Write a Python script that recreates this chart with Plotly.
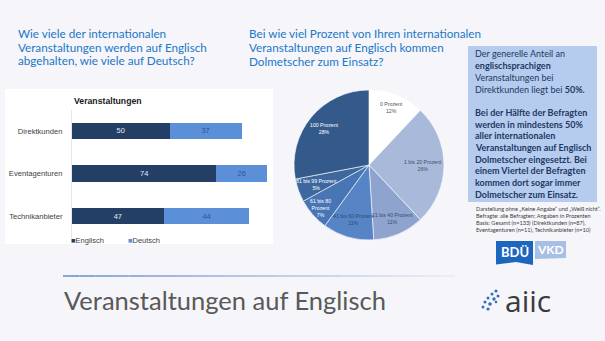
import math
import plotly.graph_objects as go

W, H = 605, 341

# ---------------- data ----------------
bar_categories = ["Direktkunden", "Eventagenturen", "Technikanbieter"]
englisch = [50, 74, 47]
deutsch = [37, 26, 44]

pie_labels = ["0 Prozent", "1 bis 20 Prozent", "21 bis 40 Prozent", "41 bis 60 Prozent",
              "61 bis 80<br>Prozent", "81 bis 99 Prozent", "100 Prozent"]
pie_values = [12, 26, 11, 11, 7, 5, 28]

# ---------------- styles ----------------
pie_colors = ["#FFFFFF", "#A9B9DA", "#8EA4CE", "#5684C4", "#4875B4", "#3E67A0", "#345A8C"]
pie_text_colors = ["#505050", "#3E4E6C", "#3A4C6E", "#2C4A7A", "#FFFFFF", "#FFFFFF", "#FFFFFF"]
pie_label_radius = [0.82, 0.72, 0.78, 0.76, 0.86, 0.75, 0.77]
C_EN, C_DE = "#243F66", "#5B8FD8"
Q_COLOR = "#2277C6"
BOX_TXT = "#1F3864"


def px(x):
    return x / W


def py(y):
    return 1 - y / H


fig = go.Figure()

# ---------------- bar chart ----------------
fig.add_trace(go.Bar(
    y=bar_categories, x=englisch, orientation="h", name="Englisch",
    marker=dict(color=C_EN, line=dict(width=0)), width=0.38,
    text=englisch, textposition="inside", insidetextanchor="middle", textangle=0,
    constraintext="none",
    textfont=dict(color="#E3E8F1", size=7.5, family="Arial"),
    hoverinfo="skip", showlegend=False))
fig.add_trace(go.Bar(
    y=bar_categories, x=deutsch, orientation="h", name="Deutsch",
    marker=dict(color=C_DE, line=dict(width=0)), width=0.38,
    text=deutsch, textposition="inside", insidetextanchor="middle", textangle=0,
    constraintext="none",
    textfont=dict(color="#34558A", size=7.5, family="Arial"),
    hoverinfo="skip", showlegend=False))

# ---------------- pie ----------------
pie_cx, pie_cy, pie_r = 369, 165, 75
fig.add_trace(go.Pie(
    labels=pie_labels, values=pie_values, sort=False, direction="clockwise", rotation=0,
    marker=dict(colors=pie_colors, line=dict(color="#FFFFFF", width=0.6)),
    textinfo="none", hoverinfo="skip", showlegend=False,
    domain=dict(x=[px(pie_cx - pie_r), px(pie_cx + pie_r)],
                y=[py(pie_cy + pie_r), py(pie_cy - pie_r)])))

annotations = []
total = sum(pie_values)
cum = 0
for lab, v, col, rf in zip(pie_labels, pie_values, pie_text_colors, pie_label_radius):
    mid = (cum + v / 2) / total * 2 * math.pi
    cum += v
    lx = pie_cx + rf * pie_r * math.sin(mid)
    ly = pie_cy - rf * pie_r * math.cos(mid)
    annotations.append(dict(x=px(lx), y=py(ly), xref="paper", yref="paper",
                            text=f"{lab}<br>{v}%", showarrow=False,
                            font=dict(size=5.2, family="Arial", color=col),
                            xanchor="center", yanchor="middle", align="center"))

# ---------------- texts ----------------
def line_ann(text, x, y, size, color, family="Lato", xanchor="left", align="left"):
    annotations.append(dict(x=px(x), y=py(y), xref="paper", yref="paper", text=text,
                            showarrow=False, font=dict(size=size, family=family, color=color),
                            xanchor=xanchor, yanchor="middle", align=align))


for i, t in enumerate(["Wie viele der internationalen",
                       "Veranstaltungen werden auf Englisch",
                       "abgehalten, wie viele auf Deutsch?"]):
    line_ann(t, 16, 33 + i * 13.5, 11.7, Q_COLOR)

for i, t in enumerate(["Bei wie viel Prozent von Ihren internationalen",
                       "Veranstaltungen auf Englisch kommen",
                       "Dolmetscher zum Einsatz?"]):
    line_ann(t, 247, 33 + i * 14.2, 11.7, Q_COLOR)

line_ann("<b>Veranstaltungen</b>", 72, 101, 8.7, "#1A1A1A", family="Arial")

line_ann(f"<span style='color:{C_EN}'>■</span>Englisch", 69, 240, 7.5, "#404040", family="Arial")
line_ann(f"<span style='color:{C_DE}'>■</span>Deutsch", 126, 240, 7.5, "#404040", family="Arial")

box_lines = [
    "Der generelle Anteil an",
    "<b>englischsprachigen</b>",
    "Veranstaltungen bei",
    "Direktkunden liegt bei <b>50%.</b>",
    "",
    "<b>Bei der Hälfte der Befragten</b>",
    "<b>werden in mindestens 50%</b>",
    "<b>aller internationalen</b>",
    "<b>Veranstaltungen auf Englisch</b>",
    "<b>Dolmetscher eingesetzt. Bei</b>",
    "<b>einem Viertel der Befragten</b>",
    "<b>kommen dort sogar immer</b>",
    "<b>Dolmetscher zum Einsatz.</b>",
]
for i, t in enumerate(box_lines):
    if t:
        line_ann(t, 473, 54 + i * 11.67, 9.0, BOX_TXT)

foot_lines = [
    "Darstellung ohne „Keine Angabe“ und „Weiß nicht“.",
    "Befragte: alle Befragten; Angaben in Prozenten",
    "Basis: Gesamt (n=133) (Direktkunden (n=87),",
    "Eventagenturen (n=11), Technikanbieter (n=10)",
]
for i, t in enumerate(foot_lines):
    line_ann(t, 474, 208 + i * 7.1, 5.6, "#404040")

line_ann("Veranstaltungen auf Englisch", 62, 300, 25.5, "#595959")
line_ann("aiic", 503, 300, 30, "#3A3A3A", family="Open Sans")
line_ann("<b>BDÜ</b>", 514.5, 252, 13, "#FFFFFF", family="Lato", xanchor="center", align="center")
line_ann("<b>VKD</b>", 550.5, 249.5, 12, "#FFFFFF", family="Lato", xanchor="center", align="center")

# ---------------- shapes ----------------
shapes = [
    dict(type="rect", xref="paper", yref="paper", x0=px(5), x1=px(273), y0=py(244), y1=py(89),
         fillcolor="#FFFFFF", line=dict(width=0), layer="below"),
    dict(type="rect", xref="paper", yref="paper", x0=px(468), x1=px(597), y0=py(202), y1=py(46),
         fillcolor="#B5CCEE", line=dict(width=0), layer="below"),
    dict(type="path", xref="paper", yref="paper",
         path=f"M{px(496)},{py(241)} L{px(533)},{py(241)} L{px(533)},{py(265)} L{px(516)},{py(262)} L{px(496)},{py(264.5)} Z",
         fillcolor="#1C66BD", line=dict(width=0)),
    dict(type="path", xref="paper", yref="paper",
         path=f"M{px(535)},{py(241)} L{px(566)},{py(241)} L{px(566)},{py(258)} L{px(535)},{py(259)} Z",
         fillcolor="#A7BFE4", line=dict(width=0)),
]
# gradient separator line
n_seg = 24
x_start, x_end = 63, 455
for i in range(n_seg):
    a = x_start + (x_end - x_start) * i / n_seg
    b = x_start + (x_end - x_start) * (i + 1) / n_seg
    op = 0.9 * (1 - i / n_seg) + 0.05
    shapes.append(dict(type="line", xref="paper", yref="paper", x0=px(a), x1=px(b),
                       y0=py(276), y1=py(276), line=dict(color=f"rgba(130,160,215,{op:.2f})", width=2)))
# aiic icon dots
dots = [(496, 291, 1.6), (492, 294, 1.5), (498, 296, 1.5), (488, 298, 1.5), (494, 299, 1.7),
        (485, 302, 1.5), (490, 304, 1.8), (496, 302, 1.3), (483, 307, 1.5), (488, 309, 1.6)]
for (dx, dy, r) in dots:
    shapes.append(dict(type="circle", xref="paper", yref="paper", x0=px(dx - r), x1=px(dx + r),
                       y0=py(dy + r), y1=py(dy - r), fillcolor="#2F6FC0", line=dict(width=0)))

fig.update_layout(
    width=W, height=H, margin=dict(l=0, r=0, t=0, b=0),
    paper_bgcolor="#F5F5FA", plot_bgcolor="rgba(0,0,0,0)",
    barmode="stack", bargap=0.6,
    xaxis=dict(domain=[px(72), px(267)], range=[0, 100], showgrid=False, zeroline=False,
               showticklabels=False, showline=False, fixedrange=True),
    yaxis=dict(domain=[py(237.5), py(109.5)], categoryorder="array", categoryarray=bar_categories,
               autorange="reversed", showgrid=False, zeroline=False, showline=True,
               linecolor="#E6E6E6", linewidth=1, ticks="", ticklabelstandoff=7,
               tickfont=dict(size=7.6, family="Arial", color="#404040"), fixedrange=True),
    annotations=annotations, shapes=shapes,
)

fig.write_html("out.html")
